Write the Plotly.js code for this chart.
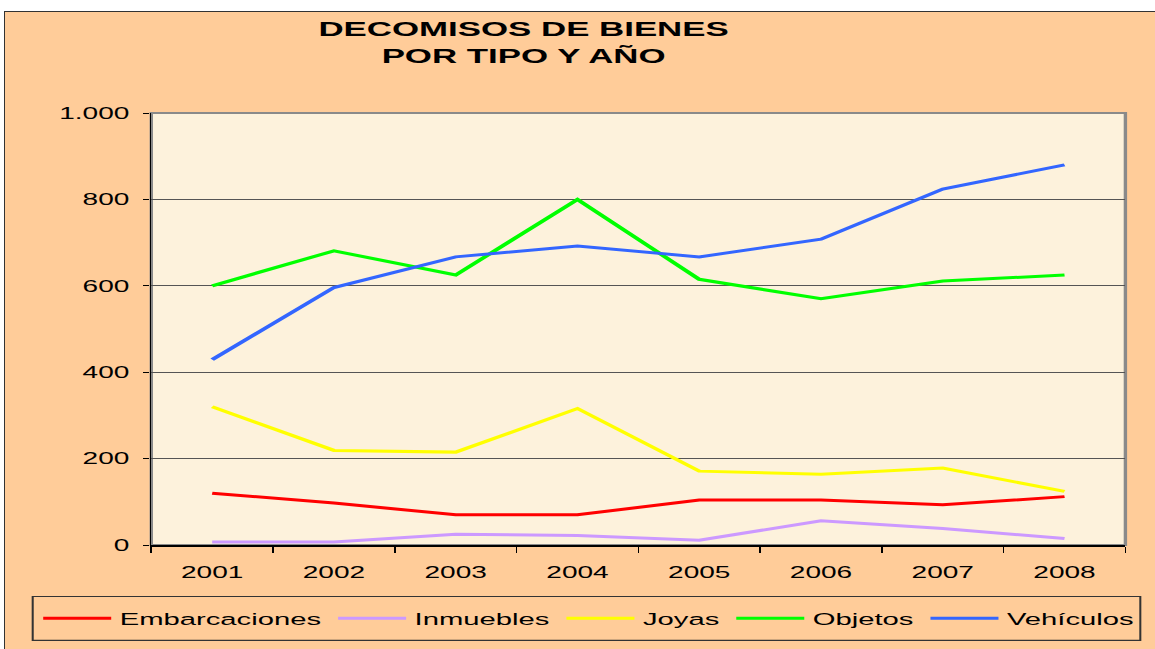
<!DOCTYPE html>
<html>
<head>
<meta charset="utf-8">
<script src="https://cdn.plot.ly/plotly-3.0.1.min.js"></script>
<style>
  html, body { margin: 0; padding: 0; background: #ffffff; width: 1155px; height: 649px; overflow: hidden; }
  #frame { position: absolute; left: 4px; top: 11px; width: 1160px; height: 650px; background: #FFCC99;
           border-left: 1.5px solid #333333; border-top: 1.5px solid #333333; }
  #chart { position: absolute; left: 0; top: 0; width: 679.4px; height: 649px; transform-origin: 0 0; }
</style>
</head>
<body>
<div id="frame"></div>
<div id="chart"></div>
<script>
// Data
const years = ['2001', '2002', '2003', '2004', '2005', '2006', '2007', '2008'];
const embarcaciones = [120, 97, 70, 70, 104, 104, 93, 112];
const inmuebles = [7, 7, 25, 22, 11, 56, 38, 15];
const joyas = [320, 219, 215, 316, 171, 164, 178, 124];
const objetos = [600, 681, 625, 800, 615, 570, 611, 625];
const vehiculos = [429, 596, 667, 692, 667, 708, 824, 880];

const seriesNames = ['Embarcaciones', 'Inmuebles', 'Joyas', 'Objetos', 'Vehículos'];
const seriesValues = [embarcaciones, inmuebles, joyas, objetos, vehiculos];
const seriesColors = ['#FF0000', '#CC99FF', '#FFFF00', '#00FF00', '#3366FF'];

const FONT = 'Liberation Sans, Arial, sans-serif';

const traces = seriesNames.map((name, i) => ({
  type: 'scatter',
  mode: 'lines',
  name: name,
  x: years,
  y: seriesValues[i],
  line: { color: seriesColors[i], width: 3 },
  hoverinfo: 'x+y+name'
}));

const W = 679.4, H = 649;
const M = { l: 89.2, r: 17, t: 113.3, b: 103.5 };
const PW = W - M.l - M.r, PH = H - M.t - M.b;
const SX = 1.7; // horizontal stretch of the reference picture

// helpers converting page pixels to paper coordinates (layout only)
const px2paperX = p => (p / SX - M.l) / PW;
const px2paperY = p => -(p - (H - M.b)) / PH;

const layout = {
  width: W,
  height: H,
  paper_bgcolor: 'rgba(0,0,0,0)',
  plot_bgcolor: '#FDF2DC',
  separators: ',.',
  margin: { l: M.l, r: M.r, t: M.t, b: M.b, pad: 0 },
  showlegend: true,
  title: {
    text: '<b>DECOMISOS DE BIENES<br>POR TIPO Y AÑO</b>',
    font: { family: FONT, size: 20.5, color: '#000000' },
    xref: 'container', x: 308 / W, xanchor: 'center',
    yref: 'container', y: 1 - 36 / H, yanchor: 'top'
  },
  xaxis: {
    type: 'category',
    range: [-0.5, years.length - 0.5],
    tickson: 'boundaries',
    ticks: 'outside', ticklen: 6, tickwidth: 1.2, tickcolor: '#000000',
    ticklabelstandoff: 11,
    showline: true, linecolor: '#000000', linewidth: 2,
    showgrid: false, zeroline: false,
    tickfont: { family: FONT, size: 16.5, color: '#000000' },
    fixedrange: true
  },
  yaxis: {
    range: [0, 1000],
    dtick: 200, tick0: 0,
    tickformat: ',d',
    ticks: 'outside', ticklen: 3.5, tickwidth: 1.2, tickcolor: '#000000',
    ticklabelstandoff: 5,
    showline: true, linecolor: '#000000', linewidth: 1.2,
    showgrid: true, gridcolor: '#555555', gridwidth: 1,
    zeroline: false,
    tickfont: { family: FONT, size: 16.5, color: '#000000' },
    fixedrange: true
  },
  shapes: [
    {
      type: 'rect', xref: 'paper', yref: 'paper', x0: 0, x1: 1, y0: 0, y1: 1,
      line: { color: '#8A8A8A', width: 2 }, layer: 'below'
    },
    {
      // legend frame
      type: 'rect', xref: 'paper', yref: 'paper',
      x0: px2paperX(33), x1: px2paperX(1141), y0: px2paperY(641), y1: px2paperY(597),
      line: { color: '#333333', width: 1.2 }, fillcolor: 'rgba(0,0,0,0)', layer: 'above'
    }
  ],
  legend: {
    orientation: 'h',
    xref: 'paper', x: px2paperX(35), xanchor: 'left',
    yref: 'paper', y: px2paperY(619), yanchor: 'middle',
    bgcolor: 'rgba(0,0,0,0)',
    borderwidth: 0,
    font: { family: FONT, size: 17.2, color: '#000000' },
    itemwidth: 40
  }
};

// The reference chart is horizontally stretched; draw at natural size, then stretch.
Plotly.newPlot('chart', traces, layout, { displayModeBar: false, responsive: false }).then(function (gd) {
  gd.style.transform = 'scaleX(' + SX + ')';
});
</script>
</body>
</html>
